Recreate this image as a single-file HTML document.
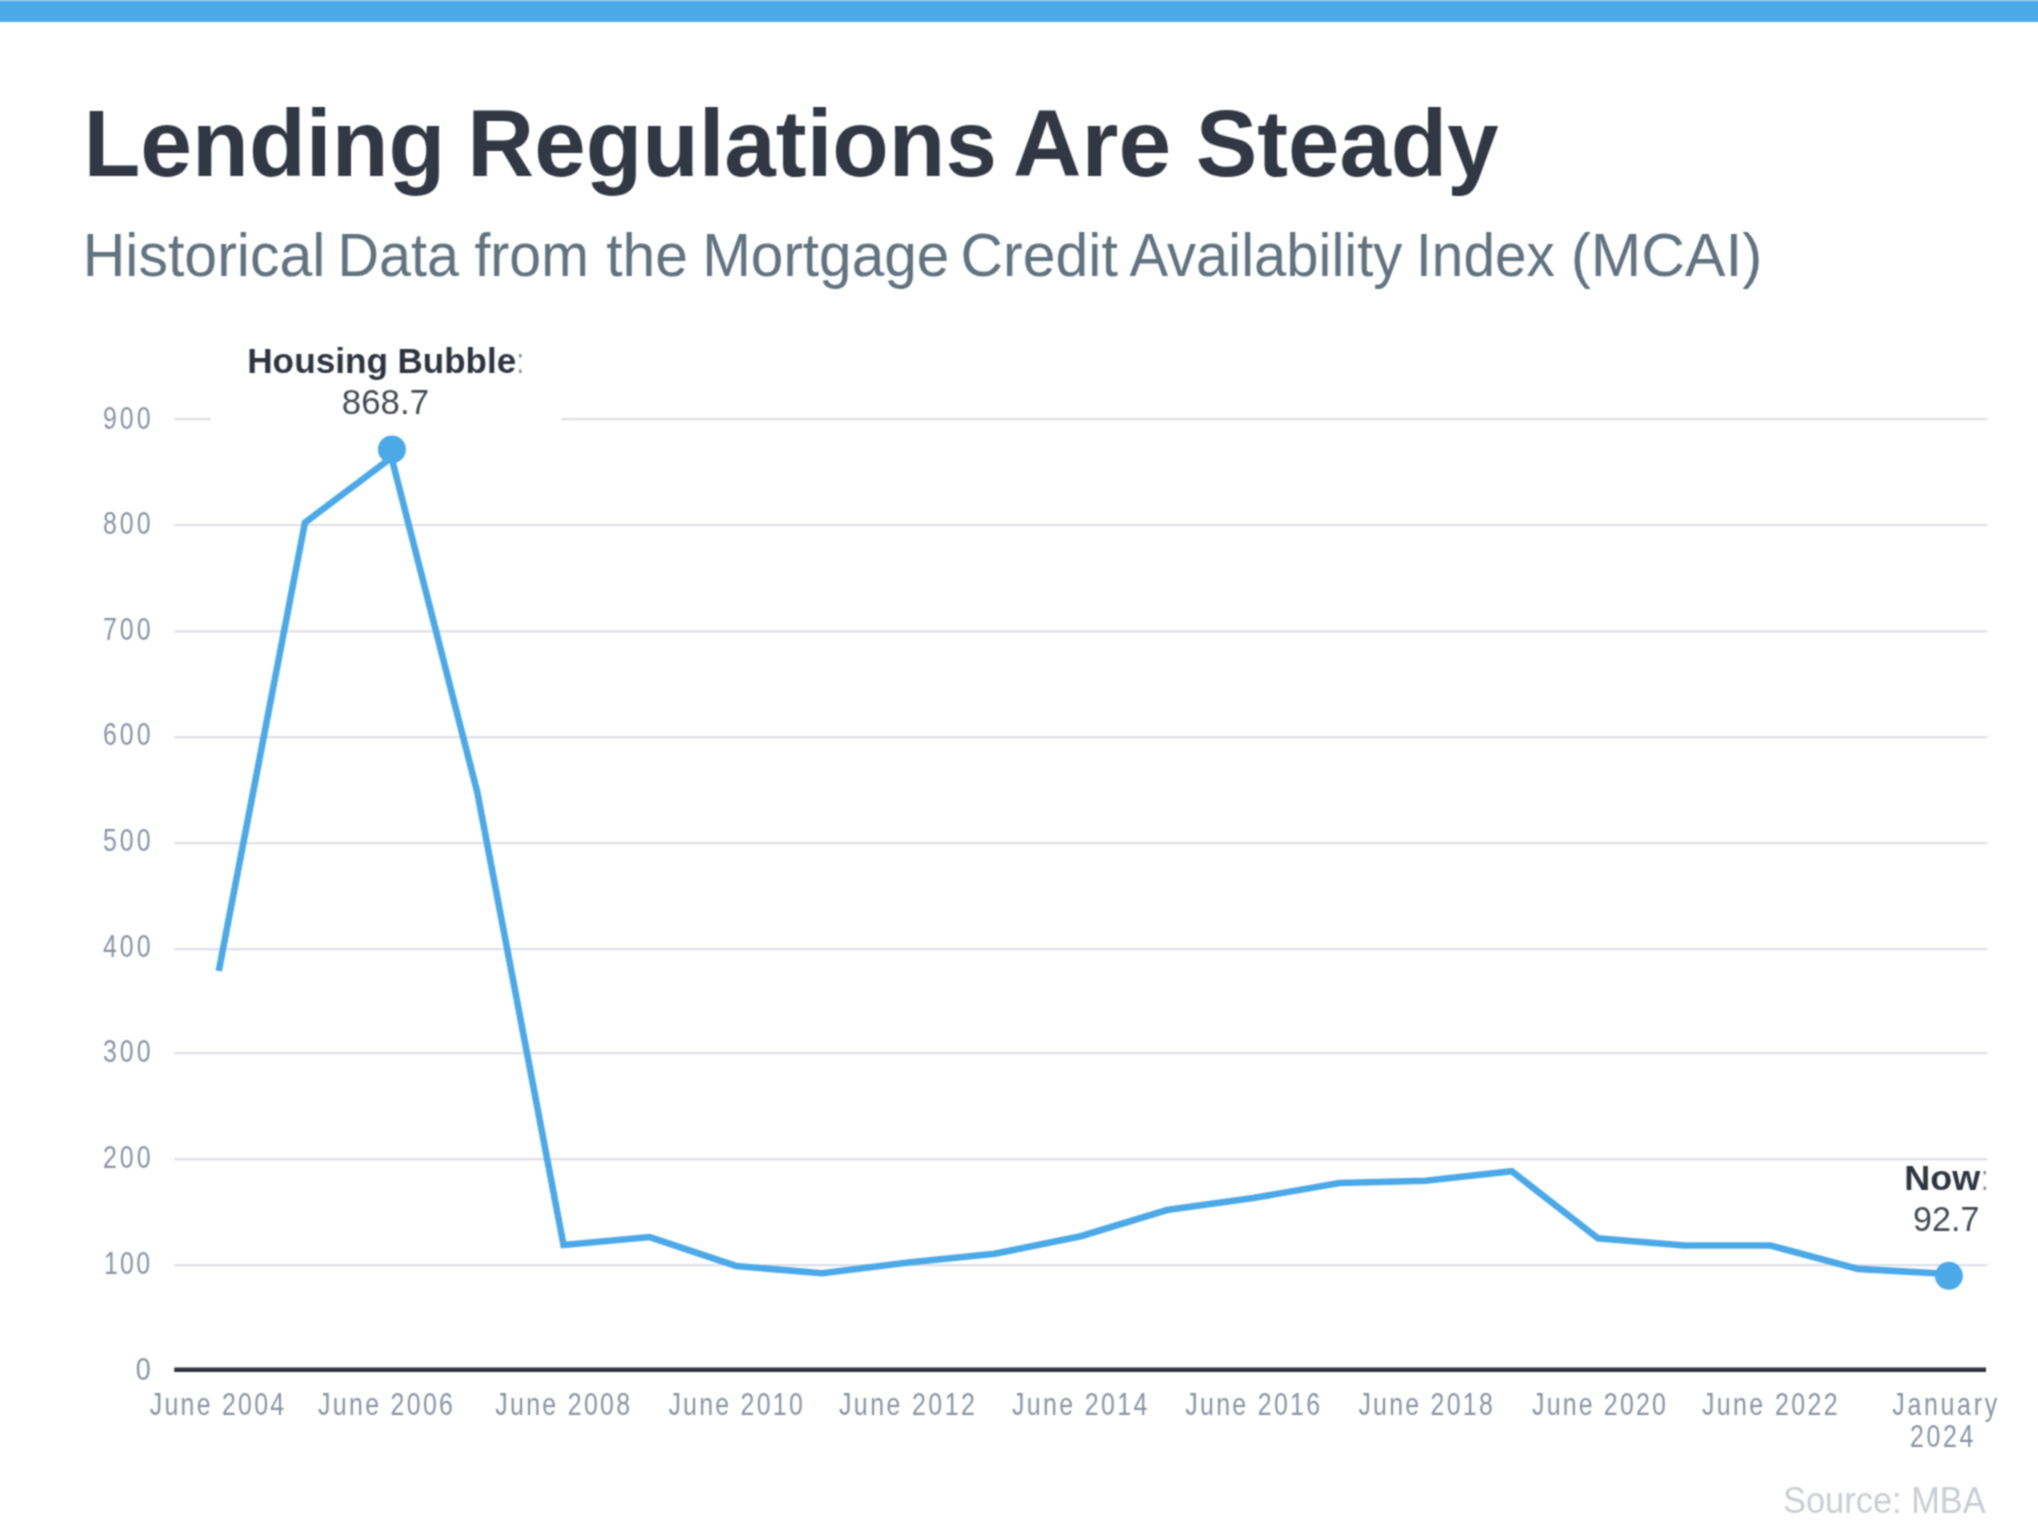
<!DOCTYPE html>
<html lang="en">
<head>
<meta charset="utf-8">
<title>Lending Regulations Are Steady</title>
<style>
html,body{margin:0;padding:0;background:#fff;}
svg{display:block;}
text{font-family:"Liberation Sans",Arial,Helvetica,sans-serif;white-space:pre;}
.title{font-weight:700;font-size:92px;fill:#323843;}
.sub{font-size:58px;fill:#60737f;}
.ylab{font-size:29px;fill:#8a93a3;}
.xlab{font-size:29px;fill:#8a93a3;}
.ann{font-size:34px;fill:#454a52;}
.annb{font-size:35px;font-weight:700;fill:#2f3540;}
.annc{font-size:34px;fill:#8d939b;}
.src{font-size:34px;fill:#cacdd2;}
body{width:2038px;height:1536px;overflow:hidden;}
.grid path{stroke:#dfe0e7;stroke-width:2.2;fill:none;}
</style>
</head>
<body>
<svg width="2038" height="1536" viewBox="0 0 2038 1536">
<defs><filter id="soft" x="0" y="0" width="2038" height="1536" filterUnits="userSpaceOnUse" color-interpolation-filters="sRGB"><feConvolveMatrix order="3" kernelMatrix="1 2 1 2 4 2 1 2 1" divisor="16" edgeMode="duplicate" preserveAlpha="false"/></filter><clipPath id="plot"><rect x="0" y="300" width="1986.5" height="1236"/></clipPath></defs>
<g filter="url(#soft)">
<rect x="0" y="0" width="2038" height="1536" fill="#ffffff"/>
<rect x="0" y="0.5" width="2038" height="21.5" fill="#4ba9e8"/>
<g id="heading">
<text transform="translate(0,175.90) scale(1,1.025)"><tspan class="title" x="83.52" textLength="361.82" lengthAdjust="spacingAndGlyphs">Lending</tspan> <tspan class="title" x="467.36" textLength="529.48" lengthAdjust="spacingAndGlyphs">Regulations</tspan> <tspan class="title" x="1013.12" textLength="158.08" lengthAdjust="spacingAndGlyphs">Are</tspan> <tspan class="title" x="1195.78" textLength="302.69" lengthAdjust="spacingAndGlyphs">Steady</tspan></text>
<text transform="translate(0,275.50) scale(1,1.055)"><tspan class="sub" x="82.70" textLength="242.62" lengthAdjust="spacingAndGlyphs">Historical</tspan> <tspan class="sub" x="337.44" textLength="121.47" lengthAdjust="spacingAndGlyphs">Data</tspan> <tspan class="sub" x="474.39" textLength="114.46" lengthAdjust="spacingAndGlyphs">from</tspan> <tspan class="sub" x="606.14" textLength="81.78" lengthAdjust="spacingAndGlyphs">the</tspan> <tspan class="sub" x="702.16" textLength="247.05" lengthAdjust="spacingAndGlyphs">Mortgage</tspan> <tspan class="sub" x="960.53" textLength="157.27" lengthAdjust="spacingAndGlyphs">Credit</tspan> <tspan class="sub" x="1129.39" textLength="272.91" lengthAdjust="spacingAndGlyphs">Availability</tspan> <tspan class="sub" x="1416.11" textLength="138.74" lengthAdjust="spacingAndGlyphs">Index</tspan> <tspan class="sub" x="1570.64" textLength="191.90" lengthAdjust="spacingAndGlyphs">(MCAI)</tspan></text>
</g>
<g class="grid">
<path d="M174.5 1265.20H1987.5"/>
<path d="M174.5 1159.05H1987.5"/>
<path d="M174.5 1053.10H1987.5"/>
<path d="M174.5 949.20H1987.5"/>
<path d="M174.5 843.20H1987.5"/>
<path d="M174.5 737.10H1987.5"/>
<path d="M174.5 631.40H1987.5"/>
<path d="M174.5 525.00H1987.5"/>
<path d="M174.5 419.10H211M561.5 419.10H1987.5"/>
</g>
<path d="M174.2 1369.7H1986" stroke="#2f3340" stroke-width="4.4" fill="none"/>
<g id="yaxis">
<text id="y0" class="ylab" transform="translate(135.80,1380.40) scale(0.86,1.06)" textLength="17.45" lengthAdjust="spacingAndGlyphs">0</text>
<text id="y1" class="ylab" transform="translate(104.00,1274.20) scale(0.86,1.06)" textLength="53.60" lengthAdjust="spacing">100</text>
<text id="y2" class="ylab" transform="translate(103.00,1168.00) scale(0.86,1.06)" textLength="55.35" lengthAdjust="spacing">200</text>
<text id="y3" class="ylab" transform="translate(103.00,1062.30) scale(0.86,1.06)" textLength="55.35" lengthAdjust="spacing">300</text>
<text id="y4" class="ylab" transform="translate(103.00,956.50) scale(0.86,1.06)" textLength="55.35" lengthAdjust="spacing">400</text>
<text id="y5" class="ylab" transform="translate(103.00,850.80) scale(0.86,1.06)" textLength="55.35" lengthAdjust="spacing">500</text>
<text id="y6" class="ylab" transform="translate(103.00,745.20) scale(0.86,1.06)" textLength="55.35" lengthAdjust="spacing">600</text>
<text id="y7" class="ylab" transform="translate(103.00,640.40) scale(0.86,1.06)" textLength="55.35" lengthAdjust="spacing">700</text>
<text id="y8" class="ylab" transform="translate(103.00,534.40) scale(0.86,1.06)" textLength="55.35" lengthAdjust="spacing">800</text>
<text id="y9" class="ylab" transform="translate(103.00,429.00) scale(0.86,1.06)" textLength="55.35" lengthAdjust="spacing">900</text>
</g>
<g id="xaxis">
<text id="x2004" class="xlab" transform="translate(149.80,1414.70) scale(0.86,1.06)" textLength="156.31" lengthAdjust="spacing">June 2004</text>
<text id="x2006" class="xlab" transform="translate(318.00,1414.70) scale(0.86,1.06)" textLength="156.96" lengthAdjust="spacing">June 2006</text>
<text id="x2008" class="xlab" transform="translate(495.20,1414.70) scale(0.86,1.06)" textLength="156.96" lengthAdjust="spacing">June 2008</text>
<text id="x2010" class="xlab" transform="translate(668.40,1414.70) scale(0.86,1.06)" textLength="156.31" lengthAdjust="spacing">June 2010</text>
<text id="x2012" class="xlab" transform="translate(839.00,1414.70) scale(0.86,1.06)" textLength="157.95" lengthAdjust="spacing">June 2012</text>
<text id="x2014" class="xlab" transform="translate(1012.00,1414.70) scale(0.86,1.06)" textLength="157.29" lengthAdjust="spacing">June 2014</text>
<text id="x2016" class="xlab" transform="translate(1185.20,1414.70) scale(0.86,1.06)" textLength="156.96" lengthAdjust="spacing">June 2016</text>
<text id="x2018" class="xlab" transform="translate(1358.40,1414.70) scale(0.86,1.06)" textLength="156.31" lengthAdjust="spacing">June 2018</text>
<text id="x2020" class="xlab" transform="translate(1532.00,1414.70) scale(0.86,1.06)" textLength="155.66" lengthAdjust="spacing">June 2020</text>
<text id="x2022" class="xlab" transform="translate(1702.00,1414.70) scale(0.86,1.06)" textLength="157.62" lengthAdjust="spacing">June 2022</text>
<text id="xjan" class="xlab" transform="translate(1892.20,1414.70) scale(0.86,1.06)" textLength="122.10" lengthAdjust="spacing">January</text>
<text id="x2024" class="xlab" transform="translate(1910.00,1447.20) scale(0.86,1.06)" textLength="73.78" lengthAdjust="spacing">2024</text>
</g>
<polyline points="218.75,971.00 304.95,522.50 391.50,457.50 477.35,792.50 563.55,1245.00 649.75,1237.00 735.95,1266.00 822.15,1273.25 908.35,1262.50 994.55,1253.75 1080.75,1236.25 1166.95,1210.00 1253.15,1198.00 1339.35,1183.00 1425.55,1180.75 1511.75,1171.25 1597.95,1238.25 1684.15,1245.50 1770.35,1245.50 1857.90,1268.90 1948.90,1274.00" fill="none" stroke="#4ba9e8" stroke-width="6.6" stroke-linejoin="miter" stroke-linecap="butt"/>
<circle cx="391.9" cy="449.4" r="14" fill="#4ba9e8"/>
<circle cx="1948.9" cy="1275.8" r="14" fill="#4ba9e8"/>
<g id="annotations">
<text transform="translate(0,372.60) scale(1,1.015)"><tspan class="annb" x="247.17" textLength="140.99" lengthAdjust="spacingAndGlyphs">Housing</tspan> <tspan class="annb" x="397.57" textLength="118.60" lengthAdjust="spacingAndGlyphs">Bubble</tspan><tspan class="annc" x="516.5" textLength="7.56" lengthAdjust="spacingAndGlyphs">:</tspan></text>
<text id="hbv" class="ann" transform="translate(341.84,414.00) scale(1,1.045)" textLength="87.22" lengthAdjust="spacingAndGlyphs">868.7</text>
<g clip-path="url(#plot)">
<text transform="translate(0,1190.20) scale(1,1.015)"><tspan class="annb" x="1904.28" textLength="75.99" lengthAdjust="spacingAndGlyphs">Now</tspan><tspan class="annc" x="1981" textLength="7.56" lengthAdjust="spacingAndGlyphs">:</tspan></text>
<text id="nowv" class="ann" transform="translate(1913.05,1231.40) scale(1,1.045)" textLength="66.37" lengthAdjust="spacingAndGlyphs">92.7</text>
</g>
</g>
<text id="src" class="src" transform="translate(1782.97,1512.60) scale(1,1.08)" textLength="202.77" lengthAdjust="spacingAndGlyphs">Source: MBA</text>
</g>
</svg>
</body>
</html>
